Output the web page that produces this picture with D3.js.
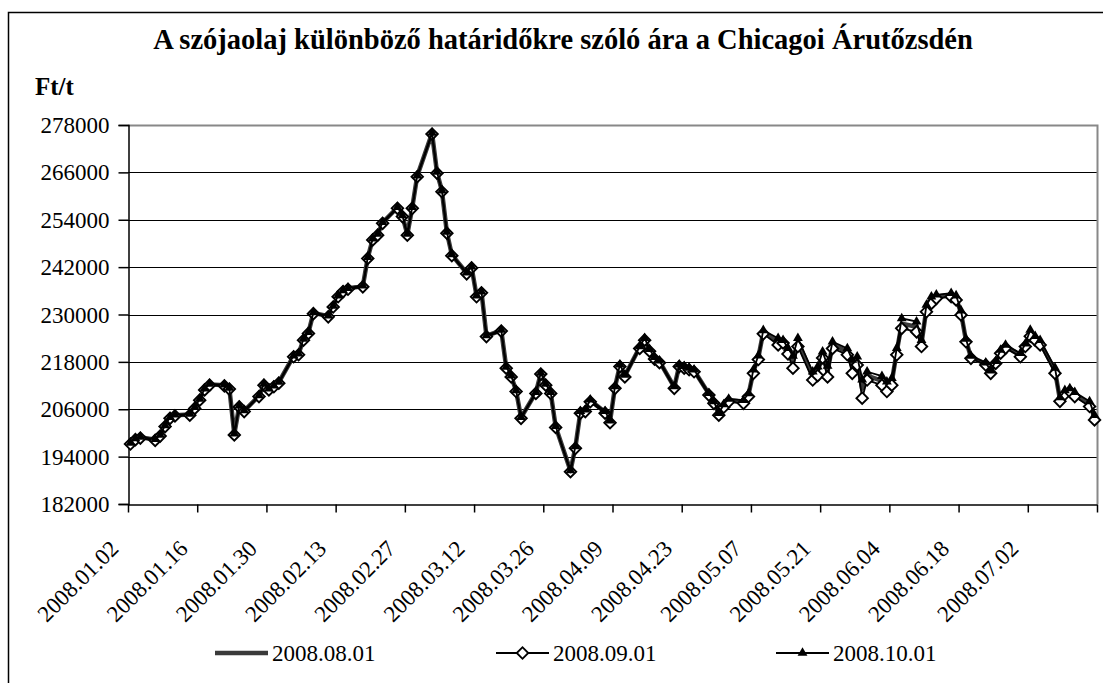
<!DOCTYPE html>
<html>
<head>
<meta charset="utf-8">
<script src="https://cdn.jsdelivr.net/npm/d3@7"></script>
<style>
  body { margin: 0; background: #fff; }
</style>
</head>
<body>
<script>
var width = 1103, height = 683
var serif = '"Liberation Serif", "Times New Roman", serif'

// trading days (2008)
var dates = [
  "01.02","01.03","01.04","01.07","01.08","01.09","01.10","01.11","01.14","01.15","01.16","01.17","01.18","01.21","01.22","01.23","01.24","01.25","01.28","01.29","01.30","01.31",
  "02.01","02.04","02.05","02.06","02.07","02.08","02.11","02.12","02.13","02.14","02.15","02.18","02.19","02.20","02.21","02.22","02.25","02.26","02.27","02.28","02.29",
  "03.03","03.04","03.05","03.06","03.07","03.10","03.11","03.12","03.13","03.14","03.17","03.18","03.19","03.20","03.21","03.24","03.25","03.26","03.27","03.28","03.31",
  "04.01","04.02","04.03","04.04","04.07","04.08","04.09","04.10","04.11","04.14","04.15","04.16","04.17","04.18","04.21","04.22","04.23","04.24","04.25","04.28","04.29","04.30",
  "05.01","05.02","05.05","05.06","05.07","05.08","05.09","05.12","05.13","05.14","05.15","05.16","05.19","05.20","05.21","05.22","05.23","05.26","05.27","05.28","05.29","05.30",
  "06.02","06.03","06.04","06.05","06.06","06.09","06.10","06.11","06.12","06.13","06.16","06.17","06.18","06.19","06.20","06.23","06.24","06.25","06.26","06.27","06.30",
  "07.01","07.02","07.03","07.04","07.07","07.08","07.09","07.10","07.11","07.14","07.15"
]

// 2008.08.01 contract
var aug = [
  197400,198500,198900,198300,199400,201800,203900,204500,204700,206400,208500,211100,212300,212100,211300,199700,206800,205600,209400,212300,211100,211900,
  212800,219500,220000,223700,225400,230400,229600,232100,234700,236000,236600,237200,244400,249100,250300,253300,257100,255000,250300,257100,265100,
  275900,266000,261300,250800,245100,240500,242000,234700,235700,224600,226000,216600,214400,210700,203900,210200,215100,212300,210200,201600,190400,
  196400,205300,205700,208200,205300,202900,211600,217100,214500,221700,223800,221000,219000,218100,211600,217100,216700,216300,215800,209900,207800,204800,
  206900,208300,207900,209600,215600,219100,225600,223200,223200,220800,218000,223000,214500,215700,219800,215600,222300,220600,216800,218300,211200,214500,
  213200,211700,213000,220600,227700,226900,222700,231500,233600,234500,235000,234200,230400,223400,219200,217500,215400,217900,220600,221900,219700,
  222200,225300,224000,222900,215800,208500,210300,210900,209700,207300,203900
]

// 2008.09.01 contract
var sep = [
  197200,198300,198700,198100,199200,201600,203700,204300,204500,206200,208300,210900,212100,211900,211100,199500,206600,205400,209200,212100,210900,211700,
  212600,219300,219800,223500,225200,230200,229400,231900,234500,235800,236400,237000,244200,248900,250100,253100,256900,254800,250100,256900,264900,
  275700,265800,261100,250600,244900,240300,241800,234500,235500,224400,225800,216400,214200,210500,203700,210000,214900,212100,210000,201400,190200,
  196100,205000,205400,207900,205000,202600,211300,216800,214200,221400,223500,220700,218700,217800,211300,216800,216400,216000,215500,209600,207500,204500,
  206500,207900,207500,209200,215100,218600,225100,222300,222800,220000,216400,221900,213400,214500,219000,214200,221400,219800,215100,217200,208800,213400,
  212100,210500,212100,219800,226500,225600,221900,230700,232800,234100,234500,233700,229900,223100,218900,217200,215100,217600,220200,221500,219300,
  221900,224500,223500,222300,215100,208000,209800,210500,209200,206700,203300
]

// 2008.10.01 contract
var oct = [
  197500,198600,199000,198400,199500,201900,204000,204600,204800,206500,208600,211200,212400,212200,211400,199800,206900,205700,209500,212400,211200,212000,
  212900,219600,220100,223800,225500,230500,229700,232200,234800,236100,236700,237300,244500,249200,250400,253400,257200,255100,250400,257200,265200,
  276000,266100,261400,250900,245200,240600,242100,234800,235800,224700,226100,216700,214500,210800,204000,210300,215200,212400,210300,201700,190500,
  196600,205500,205900,208400,205500,203100,211800,217300,214700,221900,224000,221200,219200,218300,211800,217300,216900,216500,216000,210100,208000,205000,
  207200,208600,208300,210000,216000,219600,226000,224000,223500,221500,219500,224000,215500,216800,220600,217000,223100,221400,218500,219300,213500,215500,
  214400,213000,213900,221500,229000,228200,223500,232400,234500,235000,235400,234800,231000,223800,219500,217800,215800,218200,221000,222300,220200,
  222600,226100,224500,223500,216500,209000,210800,211300,210300,208000,204500
]

var seriesNames = ["2008.08.01", "2008.09.01", "2008.10.01"]
var tickLabels = ["2008.01.02","2008.01.16","2008.01.30","2008.02.13","2008.02.27","2008.03.12","2008.03.26",
  "2008.04.09","2008.04.23","2008.05.07","2008.05.21","2008.06.04","2008.06.18","2008.07.02","2008.07.16"]
var yTicks = [182000, 194000, 206000, 218000, 230000, 242000, 254000, 266000, 278000]

var parse = d3.timeParse("%Y.%m.%d")
var days = dates.map(function(d) { return d3.timeHour.offset(parse("2008." + d), 12) })
var tickDates = tickLabels.map(parse)

var svg = d3.select("body").append("svg")
    .attr("width", width)
    .attr("height", height)

svg.append("rect").attr("width", width).attr("height", height).attr("fill", "#fff")

// outer chart frame (runs off the picture on the right and bottom)
svg.append("path")
    .attr("d", "M8.5,690V12.5H1110")
    .attr("fill", "none")
    .attr("stroke", "#000")
    .attr("stroke-width", 1.5)

var plotLeft = 128, plotRight = 1097, plotTop = 125, plotBottom = 504

var x = d3.scaleTime()
    .domain([tickDates[0], tickDates[tickDates.length - 1]])
    .range([plotLeft, plotRight])

var y = d3.scaleLinear()
    .domain([182000, 278000])
    .range([plotBottom, plotTop])

// gridlines
svg.append("g").selectAll("line")
    .data(yTicks.slice(1, -1))
    .enter().append("line")
    .attr("x1", plotLeft).attr("x2", plotRight)
    .attr("y1", function(d) { return Math.round(y(d)) + 0.5 })
    .attr("y2", function(d) { return Math.round(y(d)) + 0.5 })
    .attr("stroke", "#000")
    .attr("stroke-width", 1)

// plot area border (top/right)
svg.append("path")
    .attr("d", "M" + plotLeft + "," + (plotTop + 0.5) + "H" + (plotRight + 0.5) + "V" + plotBottom)
    .attr("fill", "none")
    .attr("stroke", "#888")
    .attr("stroke-width", 2)

// y axis
var yAxis = svg.append("g")
    .attr("transform", "translate(" + (plotLeft + 0.5) + ",0)")
    .call(d3.axisLeft(y).tickValues(yTicks).tickSize(10).tickPadding(9).tickFormat(d3.format("d")))
yAxis.attr("font-family", serif)
yAxis.selectAll("text")
    .style("font-size", "23px")
    .style("font-family", serif)
    .attr("fill", "#000")
    .attr("dy", "0.33em")
yAxis.selectAll("line, path").attr("stroke", "#000").attr("stroke-width", 1.5)

// x axis
var xAxis = svg.append("g")
    .attr("transform", "translate(0," + (plotBottom + 0.5) + ")")
    .call(d3.axisBottom(x).tickValues(tickDates).tickSize(8).tickSizeOuter(0).tickFormat(""))
xAxis.selectAll("line, path").attr("stroke", "#000").attr("stroke-width", 1.5)

svg.append("g").selectAll("text")
    .data(tickLabels.slice(0, -1))
    .enter().append("text")
    .attr("transform", function(d) {
      return "translate(" + (x(parse(d)) - 8) + ",550) rotate(-45)"
    })
    .attr("text-anchor", "end")
    .style("font-size", "23px")
    .style("font-family", serif)
    .text(function(d) { return d })

// series
var line = d3.line()
    .x(function(d) { return x(d[0]) })
    .y(function(d) { return y(d[1]) })

function pairs(vals) {
  return vals.map(function(v, i) { return [days[i], v] })
}

svg.append("path")
    .datum(pairs(aug))
    .attr("d", line)
    .attr("fill", "none")
    .attr("stroke", "#3a3a3a")
    .attr("stroke-width", 4.5)
    .attr("stroke-linejoin", "round")

svg.append("path")
    .datum(pairs(sep))
    .attr("d", line)
    .attr("fill", "none")
    .attr("stroke", "#000")
    .attr("stroke-width", 1.8)

var diamond = d3.symbol().type(d3.symbolSquare).size(66)
svg.append("g").selectAll("path")
    .data(pairs(sep))
    .enter().append("path")
    .attr("d", diamond)
    .attr("transform", function(d) { return "translate(" + x(d[0]) + "," + y(d[1]) + ") rotate(45)" })
    .attr("fill", "#fff")
    .attr("stroke", "#000")
    .attr("stroke-width", 1.9)

svg.append("path")
    .datum(pairs(oct))
    .attr("d", line)
    .attr("fill", "none")
    .attr("stroke", "#000")
    .attr("stroke-width", 1.8)

var triangle = d3.symbol().type(d3.symbolTriangle).size(42)
svg.append("g").selectAll("path")
    .data(pairs(oct))
    .enter().append("path")
    .attr("d", triangle)
    .attr("transform", function(d) { return "translate(" + x(d[0]) + "," + y(d[1]) + ")" })
    .attr("fill", "#000")

// title and unit
svg.append("text")
    .attr("x", 563).attr("y", 49)
    .attr("text-anchor", "middle")
    .style("font-size", "28.5px")
    .style("font-weight", "bold")
    .style("font-family", serif)
    .text("A szójaolaj különböző határidőkre szóló ára a Chicagoi Árutőzsdén")

svg.append("text")
    .attr("x", 35).attr("y", 95)
    .style("font-size", "25px")
    .style("font-weight", "bold")
    .style("font-family", serif)
    .text("Ft/t")

// legend
var legendX = [215, 496, 776], legendY = 653
var legend = svg.append("g").selectAll("g")
    .data(seriesNames)
    .enter().append("g")
    .attr("transform", function(d, i) { return "translate(" + legendX[i] + "," + legendY + ")" })

legend.append("line")
    .attr("x1", 0).attr("x2", 53)
    .attr("stroke", function(d, i) { return i == 0 ? "#3a3a3a" : "#000" })
    .attr("stroke-width", function(d, i) { return i == 0 ? 4.5 : 1.8 })

legend.filter(function(d, i) { return i == 1 }).append("path")
    .attr("d", diamond)
    .attr("transform", "translate(26.5,0) rotate(45)")
    .attr("fill", "#fff").attr("stroke", "#000").attr("stroke-width", 1.9)

legend.filter(function(d, i) { return i == 2 }).append("path")
    .attr("d", triangle)
    .attr("transform", "translate(26.5,0)")
    .attr("fill", "#000")

legend.append("text")
    .attr("x", 57).attr("dy", "0.35em")
    .style("font-size", "23px")
    .style("font-family", serif)
    .text(function(d) { return d })
</script>
</body>
</html>
